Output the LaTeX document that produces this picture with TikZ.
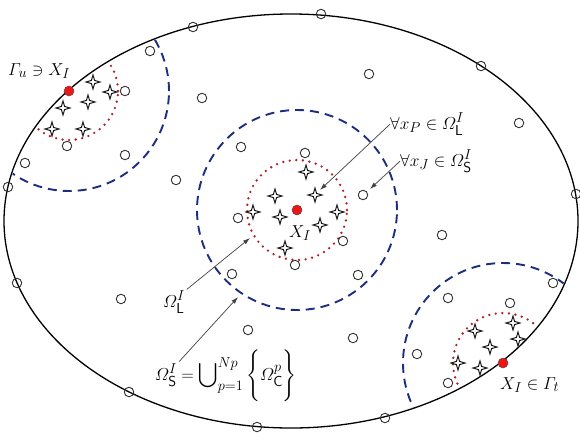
\documentclass[tikz,border=0pt]{standalone}
\usepackage{amsmath}
\usetikzlibrary{positioning, arrows.meta, shapes.geometric}
\definecolor{dotred}{RGB}{178, 30, 40}
\definecolor{dashblue}{RGB}{28, 46, 125}
\definecolor{ptred}{RGB}{240, 20, 20}

\begin{document}
\begin{tikzpicture}[x=1pt, y=-1pt,
        boundary/.style={draw=black, line width=1.3pt},
        support/.style={draw=dashblue, line width=1.9pt, dash pattern=on 9pt off 6pt},
        influence/.style={draw=dotred, line width=2.6pt, line cap=round, dash pattern=on 0pt off 6.6pt},
        mesh/.style={circle, draw=black!80, line width=0.9pt, minimum size=9.5pt, inner sep=0pt},
        gauss/.style={star, star points=4, star point ratio=3.1, draw=black!90, line width=1pt, fill=white, minimum size=14pt, inner sep=0pt},
        colloc/.style={circle, draw=black!70, line width=0.5pt, fill=ptred, minimum size=10pt, inner sep=0pt},
        lbl/.style={inner sep=0pt, font=\fontsize{19}{22}\selectfont},
        pointer/.style={draw=black!75, line width=0.7pt, -{Latex[length=7pt, width=4.5pt]}}]
        \useasboundingbox (0,0) rectangle (580,432);

        \draw[boundary] (291,221) ellipse [x radius=287pt, y radius=207pt];

        \begin{scope}
            \clip (291,221) ellipse [x radius=286pt, y radius=206pt];
            \draw[support] (69,91) circle [radius=100pt];
            \draw[influence] (69,91) circle [radius=49pt];
            \draw[support] (503,363) circle [radius=100pt];
            \draw[influence] (503,363) circle [radius=50pt];
        \end{scope}
        \draw[support] (297,210) circle [radius=100pt];
        \draw[influence] (297,210) circle [radius=50pt];

        \foreach \px/\py [count=\i] in {193/27, 321/14, 481/66, 576/194, 8/187, 17/283, 129/392,
                257/427, 385/418, 553/283, 150/51, 369/74, 125/91, 202/98, 519/123, 67/146,
                125/155, 241/147, 305/153, 25/163, 176/180, 363/195, 238/218, 442/235, 343/241,
                295/265, 232/274, 358/275, 448/298, 510/303, 121/299, 248/330, 353/338,
                417/354, 448/383}
            \node[mesh] (m\i) at (\px,\py) {};

        \foreach \px/\py [count=\i] in {93/82, 110/92, 88/102, 63/108, 52/129, 83/129,
                306/172, 275/196, 315/195, 253/212, 280/217, 337/212, 320/225, 285/248,
                513/323, 475/331, 518/339, 490/347, 458/363, 480/368}
            \node[gauss] (g\i) at (\px,\py) {};

        \node[colloc] (xu) at (69,91) {};
        \node[colloc] (xc) at (297,210) {};
        \node[colloc] (xt) at (503,363) {};

        \node[lbl, anchor=base west] (lblU) at (8,75) {$\varGamma_{u}\ni X_{I}$};
        \node[lbl, anchor=base west] (lblC) at (289,237) {$X_{I}$};
        \node[lbl, anchor=base west] (lblT) at (500,389) {$X_{I}\in\varGamma_{t}$};
        \node[lbl, anchor=base west] (lblP) at (390,129) {$\forall x_{P}\in\varOmega^{I}_{\mathsf{L}}$};
        \node[lbl, anchor=base west] (lblJ) at (400,166) {$\forall x_{J}\in\varOmega^{I}_{\mathsf{S}}$};
        \node[lbl, anchor=base west] (omL) at (163,307) {$\varOmega^{I}_{\mathsf{L}}$};
        \node[lbl, anchor=base west] (omS) at (155,380) {$\varOmega^{I}_{\mathsf{S}}$};
        \node[lbl, base right=4pt of omS] (unionS) {$=\displaystyle\bigcup\nolimits_{p=1}^{Np}\Bigg\{\varOmega^{p}_{\mathsf{C}}\Bigg\}$};

        \coordinate (tipP) at (320,190);
        \coordinate (tipJ) at (370,189);
        \coordinate (tipL) at (250,238);
        \coordinate (tipS) at (238,297);

        \draw[pointer] (lblP.west) -- (tipP);
        \draw[pointer] (lblJ.west) -- (tipJ);
        \draw[pointer, shorten <=2pt] (omL.north east) -- (tipL);
        \draw[pointer, shorten <=3pt] (omS.north east) -- (tipS);
    \end{tikzpicture}
\end{document}
